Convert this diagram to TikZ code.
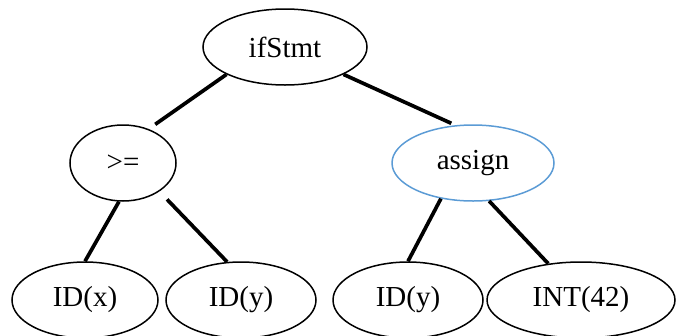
\documentclass[tikz,border=0pt]{standalone}
\usepackage{fontspec}
\setmainfont{Liberation Serif}
\usetikzlibrary{shapes.geometric}

\begin{document}
\begin{tikzpicture}[x=1pt, y=-1pt,
    tnode/.style={ellipse, draw, line width=1.5pt, inner sep=0pt, minimum height=76pt,
        font=\fontsize{29}{32}\selectfont},
    tedge/.style={line width=3.7pt}]
    \useasboundingbox (0,0) rectangle (676,335);
    %
    \node [tnode, minimum width=164pt] (ifStmt) at (285,47)  {ifStmt};
    \node [tnode, minimum width=106pt] (ge)     at (123,163) {>=};
    \node [tnode, minimum width=162pt, draw={rgb,255:red,91;green,155;blue,213}] (assign) at (473,163) {assign};
    \node [tnode, minimum width=146pt] (idx)    at (85,300)  {ID(x)};
    \node [tnode, minimum width=150pt] (idyA)   at (241,300) {ID(y)};
    \node [tnode, minimum width=150pt] (idyB)   at (408,300) {ID(y)};
    \node [tnode, minimum width=188pt] (int)    at (581,300) {INT(42)};
    %
    \draw [tedge, shorten >=8pt]   (ifStmt.south west) -- (ge.53);
    \draw [tedge, shorten >=4.5pt] (ifStmt.south east) -- (assign.115);
    \draw [tedge] (ge.264) -- (idx.north);
    \draw [tedge, shorten <=11pt]  (ge.322) -- (idyA.110);
    \draw [tedge] (assign.228) -- (idyB.north);
    \draw [tedge] (assign.293) -- (int.132);
\end{tikzpicture}
\end{document}
